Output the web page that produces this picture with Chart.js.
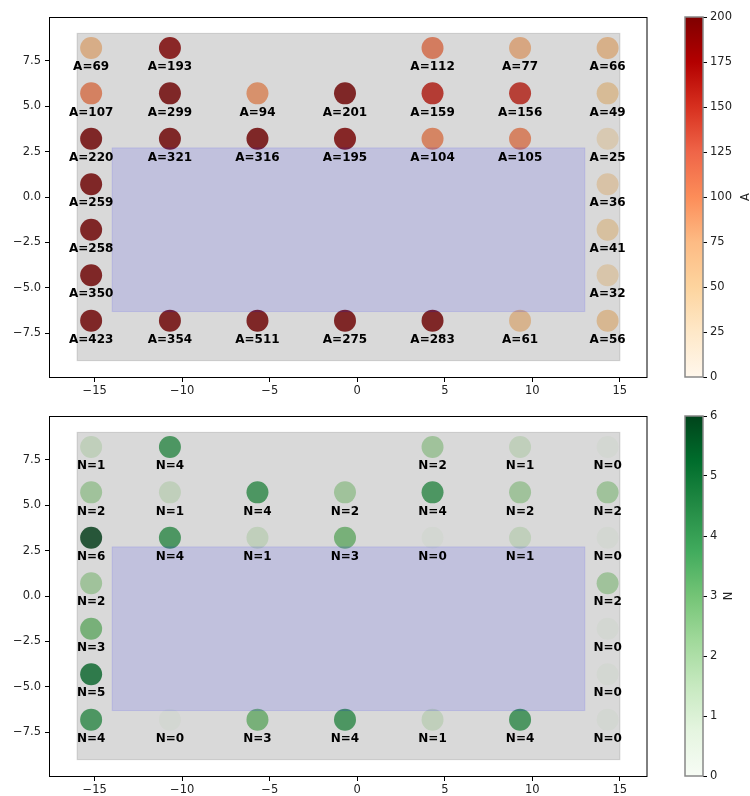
<!DOCTYPE html>
<html>
<head>
<meta charset="utf-8">
<script src="https://cdn.jsdelivr.net/npm/chart.js@4.4.0/dist/chart.umd.min.js"></script>
<style>
  html, body { margin: 0; padding: 0; background: #fff; }
  #wrap { position: relative; width: 750px; height: 796px; }
  canvas { position: absolute; }
</style>
</head>
<body>
<div id="wrap">
  <canvas id="mainA" width="660" height="400" style="left:0;top:0;width:660px;height:400px"></canvas>
  <canvas id="barA" width="90" height="400" style="left:660px;top:0;width:90px;height:400px"></canvas>
  <canvas id="mainN" width="660" height="400" style="left:0;top:399px;width:660px;height:400px"></canvas>
  <canvas id="barN" width="90" height="400" style="left:660px;top:399px;width:90px;height:400px"></canvas>
</div>
<script>
// Station positions
const siteX = [-15.2, -10.7, 4.3, 9.3, 14.3,
               -15.2, -10.7, -5.7, -0.7, 4.3, 9.3, 14.3,
               -15.2, -10.7, -5.7, -0.7, 4.3, 9.3, 14.3,
               -15.2, 14.3,
               -15.2, 14.3,
               -15.2, 14.3,
               -15.2, -10.7, -5.7, -0.7, 4.3, 9.3, 14.3];
const siteY = [8.2, 8.2, 8.2, 8.2, 8.2,
               5.7, 5.7, 5.7, 5.7, 5.7, 5.7, 5.7,
               3.2, 3.2, 3.2, 3.2, 3.2, 3.2, 3.2,
               0.7, 0.7,
               -1.8, -1.8,
               -4.3, -4.3,
               -6.8, -6.8, -6.8, -6.8, -6.8, -6.8, -6.8];
// Measured quantities per station
const valuesA = [69, 193, 112, 77, 66,
                 107, 299, 94, 201, 159, 156, 49,
                 220, 321, 316, 195, 104, 105, 25,
                 259, 36,
                 258, 41,
                 350, 32,
                 423, 354, 511, 275, 283, 61, 56];
const valuesN = [1, 4, 2, 1, 0,
                 2, 1, 4, 2, 4, 2, 2,
                 6, 4, 1, 3, 0, 1, 0,
                 2, 2,
                 3, 0,
                 5, 0,
                 4, 0, 3, 4, 1, 4, 0];

// Regions: outer field and inner zone [x0, x1, y0, y1]
const outerBox = [-16, 15, -9, 9];
const innerBox = [-14, 13, -6.3, 2.7];

// Axis ticks
const xTicks = [-15, -10, -5, 0, 5, 10, 15];
const yTicks = [-7.5, -5, -2.5, 0, 2.5, 5, 7.5];
const ticksA = [0, 25, 50, 75, 100, 125, 150, 175, 200];
const ticksN = [0, 1, 2, 3, 4, 5, 6];

// Colormaps
const orRd = ['#fff7ec', '#fee8c8', '#fdd49e', '#fdbb84', '#fc8d59', '#ef6548', '#d7301f', '#b30000', '#7f0000'];
const greens = ['#f7fcf5', '#e5f5e0', '#c7e9c0', '#a1d99b', '#74c476', '#41ab5d', '#238b45', '#006d2c', '#00441b'];

const FONT = 'DejaVu Sans';
const TICK_FONT = { family: FONT, size: 11.5 };

function hexRgb(h) {
  return [parseInt(h.slice(1, 3), 16), parseInt(h.slice(3, 5), 16), parseInt(h.slice(5, 7), 16)];
}
function cmap(stops, t) {
  t = Math.max(0, Math.min(1, t));
  const p = t * (stops.length - 1);
  const i = Math.min(Math.floor(p), stops.length - 2);
  const f = p - i;
  const a = hexRgb(stops[i]), b = hexRgb(stops[i + 1]);
  return [0, 1, 2].map(k => Math.round(a[k] + (b[k] - a[k]) * f));
}
function rgb(c) { return `rgb(${c[0]},${c[1]},${c[2]})`; }
function fmt(v, digits) { return v.toFixed(digits).replace('-', '\u2212'); }

function boxPx(x, y, b) {
  const x0 = x.getPixelForValue(b[0]), x1 = x.getPixelForValue(b[1]);
  const y0 = y.getPixelForValue(b[3]), y1 = y.getPixelForValue(b[2]);
  return [x0, y0, x1 - x0, y1 - y0];
}

function fieldPlugin(values, prefix) {
  return {
    id: 'field',
    afterDatasetsDraw(chart) {
      const { ctx, chartArea, scales: { x, y } } = chart;
      ctx.save();
      // translucent field overlay
      const o = boxPx(x, y, outerBox);
      ctx.fillStyle = 'rgba(128,128,128,0.3)';
      ctx.fillRect(...o);
      ctx.strokeStyle = 'rgba(128,128,128,0.3)';
      ctx.lineWidth = 1;
      ctx.strokeRect(...o);
      // inner zone overlay
      const r = boxPx(x, y, innerBox);
      ctx.fillStyle = 'rgba(0,0,255,0.11)';
      ctx.fillRect(...r);
      ctx.strokeStyle = 'rgba(0,0,255,0.11)';
      ctx.strokeRect(...r);
      // value labels under each station
      ctx.fillStyle = '#000';
      ctx.font = `bold 12px "${FONT}"`;
      ctx.textAlign = 'center';
      ctx.textBaseline = 'middle';
      values.forEach((v, i) => {
        ctx.fillText(prefix + '=' + v, x.getPixelForValue(siteX[i]), y.getPixelForValue(siteY[i] - 1.05));
      });
      // axes frame
      ctx.strokeStyle = '#000';
      ctx.lineWidth = 1;
      ctx.strokeRect(chartArea.left - 0.5, chartArea.top + 0.5, chartArea.right - chartArea.left + 0.5, chartArea.bottom - chartArea.top);
      ctx.restore();
    }
  };
}

function makeMain(id, values, vmax, stops, prefix) {
  const colors = values.map(v => rgb(cmap(stops, v / vmax)));
  const pts = values.map((v, i) => ({ x: siteX[i], y: siteY[i] }));
  new Chart(document.getElementById(id), {
    type: 'scatter',
    data: { datasets: [{ data: pts, backgroundColor: colors, borderWidth: 0, pointRadius: 11, pointHoverRadius: 11 }] },
    options: {
      responsive: false, animation: false, events: [],
      layout: { padding: { top: 17, right: 13, left: 0, bottom: 0 } },
      plugins: { legend: { display: false }, tooltip: { enabled: false } },
      scales: {
        x: {
          type: 'linear', min: -17.55, max: 16.55,
          afterBuildTicks: s => { s.ticks = xTicks.map(v => ({ value: v })); },
          afterFit: s => { s.height = 23; },
          grid: { drawOnChartArea: false, drawTicks: true, tickLength: 5, color: '#000' },
          border: { display: false },
          ticks: { font: TICK_FONT, color: '#222', padding: 2, maxRotation: 0, callback: v => fmt(v, 0) }
        },
        y: {
          type: 'linear', min: -9.9, max: 9.9,
          afterBuildTicks: s => { s.ticks = yTicks.map(v => ({ value: v })); },
          afterFit: s => { s.width = 50; },
          grid: { drawOnChartArea: false, drawTicks: true, tickLength: 5, color: '#000' },
          border: { display: false },
          ticks: { font: TICK_FONT, color: '#222', padding: 4, callback: v => fmt(v, 1) }
        }
      }
    },
    plugins: [fieldPlugin(values, prefix)]
  });
}

function makeBar(id, ticks, vmax, stops, label, labelX) {
  new Chart(document.getElementById(id), {
    type: 'scatter',
    data: { datasets: [{ data: [] }] },
    options: {
      responsive: false, animation: false, events: [],
      layout: { padding: { top: 17, left: 25, right: 0, bottom: 23 } },
      plugins: { legend: { display: false }, tooltip: { enabled: false } },
      scales: {
        x: { display: false, min: 0, max: 1 },
        y: {
          type: 'linear', position: 'right', min: 0, max: vmax,
          afterBuildTicks: s => { s.ticks = ticks.map(v => ({ value: v })); },
          afterFit: s => { s.width = 47; },
          grid: { drawOnChartArea: false, drawTicks: true, tickLength: 4, color: '#000' },
          border: { display: false },
          ticks: { font: TICK_FONT, color: '#222', padding: 3, callback: v => String(v) }
        }
      }
    },
    plugins: [{
      id: 'colorbar',
      beforeDatasetsDraw(chart) {
        const { ctx, chartArea: a, scales: { y } } = chart;
        const g = ctx.createLinearGradient(0, y.getPixelForValue(0), 0, y.getPixelForValue(vmax));
        stops.forEach((c, i) => g.addColorStop(i / (stops.length - 1), c));
        ctx.save();
        ctx.fillStyle = g;
        ctx.fillRect(a.left, a.top, a.right - a.left, a.bottom - a.top);
        ctx.strokeStyle = '#888';
        ctx.lineWidth = 1.5;
        ctx.strokeRect(a.left, a.top, a.right - a.left, a.bottom - a.top);
        ctx.fillStyle = '#222';
        ctx.font = `11.5px "${FONT}"`;
        ctx.textAlign = 'center';
        ctx.textBaseline = 'middle';
        ctx.translate(labelX, (a.top + a.bottom) / 2);
        ctx.rotate(-Math.PI / 2);
        ctx.fillText(label, 0, 0);
        ctx.restore();
      }
    }]
  });
}

makeMain('mainA', valuesA, 200, orRd, 'A');
makeBar('barA', ticksA, 200, orRd, 'A', 86);
makeMain('mainN', valuesN, 6, greens, 'N');
makeBar('barN', ticksN, 6, greens, 'N', 69);
</script>
</body>
</html>
